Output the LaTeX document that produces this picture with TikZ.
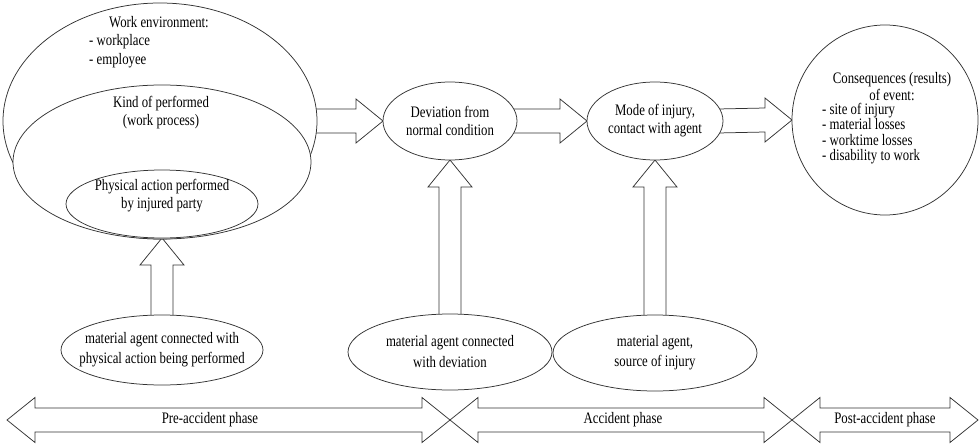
\documentclass[tikz,border=0pt]{standalone}
\usepackage{fontspec}
\setmainfont{Liberation Serif}[FakeStretch=0.8]
\usetikzlibrary{shapes.geometric,calc}
\pgfdeclarelayer{bg}
\pgfsetlayers{bg,main}
\newcommand\rblock[2]{%
  \draw[blk] ($(#1.east)+(-5,-12)$) -- ($(#2.west)+(-27,-12)$) -- ($(#2.west)+(-27,-22)$) -- (#2.west)
    -- ($(#2.west)+(-27,22)$) -- ($(#2.west)+(-27,12)$) -- ($(#1.east)+(-5,12)$);}
\newcommand\ublock[2]{%
  \draw[blk] ($(#1.north)+(-11,5)$) -- ($(#2.south)+(-11,27)$) -- ($(#2.south)+(-22,27)$) -- (#2.south)
    -- ($(#2.south)+(22,27)$) -- ($(#2.south)+(11,27)$) -- ($(#1.north)+(11,5)$);}
\newcommand\dblock[2]{%
  \draw[blk] (#1) -- ($(#1)+(28,-22.5)$) -- ($(#1)+(28,-12)$) -- ($(#2)+(-28,-12)$) -- ($(#2)+(-28,-22.5)$)
    -- (#2) -- ($(#2)+(-28,22.5)$) -- ($(#2)+(-28,12)$) -- ($(#1)+(28,12)$) -- ($(#1)+(28,22.5)$) -- cycle;}
\begin{document}
\begin{tikzpicture}[x=1pt,y=-1pt,
  ell/.style={draw=black!80, line width=0.75pt, fill=white, ellipse, inner sep=0pt, outer sep=0pt},
  txt/.style={font=\fontsize{16}{18}\selectfont, text=black, align=center, inner sep=0pt},
  blk/.style={draw=black!80, line width=0.75pt, line join=miter}]
\useasboundingbox (0,0) rectangle (980,444);

% nested ellipses
\node[ell, minimum width=314pt, minimum height=236pt] (env) at (160,121) {};
\node[ell, minimum width=298pt, minimum height=154pt] (kind) at (162,162) {};
\node[ell, minimum width=192pt, minimum height=68pt] (phys) at (162,204) {};
\node[txt] (envt) at (159,22) {Work environment:};
\node[txt, anchor=west] (envl1) at (89,42) {- workplace};
\node[txt, anchor=west] (envl2) at (89,61) {- employee};
\node[txt] (kindt) at (161,113) {Kind of performed\\(work process)};
\node[txt] (physt) at (162,196) {Physical action performed\\by injured party};

% middle ellipses
\node[ell, minimum width=134pt, minimum height=78pt] (dev) at (450,121) {};
\node[txt] (devt) at (dev) {Deviation from\\normal condition};
\node[ell, minimum width=136pt, minimum height=78pt] (mode) at (655,121) {};
\node[txt] (modet) at (mode) {Mode of injury,\\contact with agent};
\node[ell, minimum width=186pt, minimum height=190pt] (cons) at (885,120) {};
\node[txt, font=\fontsize{16}{17}\selectfont] (conshead) at (892,86.5) {Consequences (results)\\of event:};
\node[txt, align=left, anchor=west, font=\fontsize{16}{15.6}\selectfont] (conslist) at (822,133.5)
  {- site of injury\\- material losses\\- worktime losses\\- disability to work};

% bottom ellipses
\node[ell, minimum width=202pt, minimum height=70pt] (ma1) at (162,350) {};
\node[txt, font=\fontsize{16}{20}\selectfont] (ma1t) at (ma1) {material agent connected with\\physical action being performed};
\node[ell, minimum width=204pt, minimum height=76pt] (ma2) at (450,352) {};
\node[txt, font=\fontsize{16}{21}\selectfont] (ma2t) at (ma2) {material agent connected\\with deviation};
\node[ell, minimum width=204pt, minimum height=76pt] (ma3) at (655,353) {};
\node[txt, font=\fontsize{16}{20}\selectfont] (ma3t) at (ma3) {material agent,\\source of injury};

\begin{pgfonlayer}{bg}
\rblock{env}{dev}
\rblock{dev}{mode}
\rblock{mode}{cons}
\ublock{ma1}{phys}
\ublock{ma2}{dev}
\ublock{ma3}{mode}
\end{pgfonlayer}

% phase arrows
\coordinate (p0) at (7,420);
\coordinate (p1) at (450,420);
\coordinate (p2) at (792,420);
\coordinate (p3) at (978,420);
\dblock{p0}{p1}
\dblock{p1}{p2}
\dblock{p2}{p3}
\node[txt] (pre) at (210,420) {Pre-accident phase};
\node[txt] (acc) at (623,420) {Accident phase};
\node[txt] (post) at (885,420) {Post-accident phase};
\end{tikzpicture}
\end{document}
